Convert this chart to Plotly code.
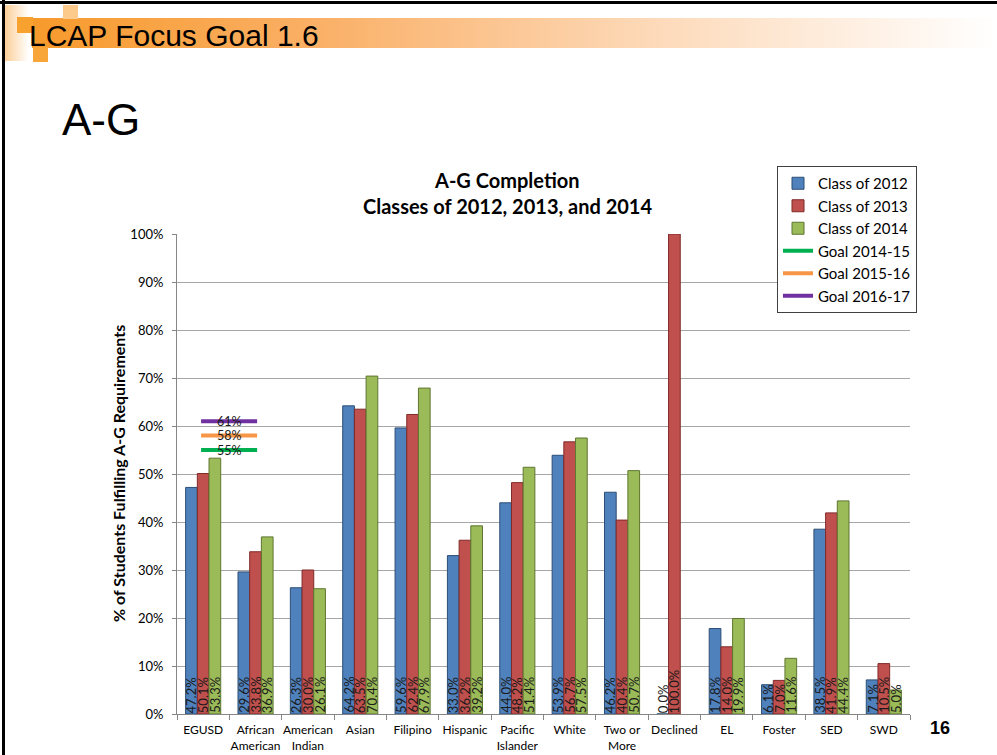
import base64
import plotly.graph_objects as go

# ---------------- data ----------------
categories = ["EGUSD", "African<br>American", "American<br>Indian", "Asian", "Filipino",
              "Hispanic", "Pacific<br>Islander", "White", "Two or<br>More", "Declined",
              "EL", "Foster", "SED", "SWD"]
class_2012 = [47.2, 29.6, 26.3, 64.2, 59.6, 33.0, 44.0, 53.9, 46.2, 0.0, 17.8, 6.1, 38.5, 7.1]
class_2013 = [50.1, 33.8, 30.0, 63.5, 62.4, 36.2, 48.2, 56.7, 40.4, 100.0, 14.0, 7.0, 41.9, 10.5]
class_2014 = [53.3, 36.9, 26.1, 70.4, 67.9, 39.2, 51.4, 57.5, 50.7, None, 19.9, 11.6, 44.4, 5.0]
series_names = ["Class of 2012", "Class of 2013", "Class of 2014"]
goal_names = ["Goal 2014-15", "Goal 2015-16", "Goal 2016-17"]
goal_values = [55, 58, 61]
y_ticks = [0, 10, 20, 30, 40, 50, 60, 70, 80, 90, 100]
y_tick_labels = [f"{v}%" for v in y_ticks]

# ---------------- layout geometry ----------------
W, H = 997, 755
L, R, T, B = 177, 87, 234, 41
PW, PH = W - L - R, H - T - B


def px(x):
    return (x - L) / PW


def py(y):
    return (H - B - y) / PH


bar_fill = ["#4F81BD", "#C0504D", "#9BBB59"]
bar_line = ["#2C4D75", "#7F2A28", "#5F7530"]
goal_colors = ["#00B050", "#F79646", "#7030A0"]
CAL = "Lato, 'Open Sans', sans-serif"
ARIAL = "'Liberation Sans', Arial, sans-serif"

BARGAP = 0.33
bw = (1 - BARGAP) / 3

fig = go.Figure()
all_series = [class_2012, class_2013, class_2014]
for k, (name, vals) in enumerate(zip(series_names, all_series)):
    fig.add_trace(go.Bar(
        x=categories, y=vals, name=name,
        marker=dict(color=bar_fill[k], line=dict(color=bar_line[k], width=1)),
        hoverinfo="skip",
    ))

annotations = []
# data labels (rotated, at the base of each bar)
for k, vals in enumerate(all_series):
    off = (k - 1) * bw
    for i, v in enumerate(vals):
        if v is None:
            continue
        annotations.append(dict(
            x=i + off, y=0, xref="x2", yref="y", text=f"{v:.1f}%",
            textangle=-90, xanchor="center", yanchor="bottom", showarrow=False,
            font=dict(family=CAL, size=13, color="#1a1a1a"), borderpad=0,
        ))

# goal lines near EGUSD
gi = categories.index("EGUSD")
for name, val, col in zip(goal_names, goal_values, goal_colors):
    fig.add_trace(go.Scatter(
        x=[gi - 0.04, gi + 1.03], y=[val, val], xaxis="x2", yaxis="y",
        mode="lines", name=name, line=dict(color=col, width=4), hoverinfo="skip",
    ))
    annotations.append(dict(
        x=gi + 0.495, y=val, xref="x2", yref="y", text=f"{val}%", showarrow=False,
        xanchor="center", yanchor="middle", borderpad=0,
        font=dict(family=CAL, size=12.5, color="#1a1a1a"),
    ))

# chart title
annotations.append(dict(x=px(507), y=py(180), xref="paper", yref="paper", text="<b>A-G Completion</b>",
                        showarrow=False, xanchor="center", yanchor="middle",
                        font=dict(family=CAL, size=20, color="#000")))
annotations.append(dict(x=px(507), y=py(206), xref="paper", yref="paper",
                        text="<b>Classes of 2012, 2013, and 2014</b>",
                        showarrow=False, xanchor="center", yanchor="middle",
                        font=dict(family=CAL, size=20, color="#000")))
# y axis title
annotations.append(dict(x=px(118), y=py(474), xref="paper", yref="paper",
                        text="<b>% of Students Fulfilling A-G Requirements</b>", textangle=-90,
                        showarrow=False, xanchor="center", yanchor="middle",
                        font=dict(family=CAL, size=16, color="#000")))
# slide texts
annotations.append(dict(x=px(27), y=py(35), xref="paper", yref="paper", text="LCAP Focus Goal 1.6",
                        showarrow=False, xanchor="left", yanchor="middle",
                        font=dict(family=ARIAL, size=30, color="#000")))
annotations.append(dict(x=px(60), y=py(119), xref="paper", yref="paper", text="A-G",
                        showarrow=False, xanchor="left", yanchor="middle",
                        font=dict(family=ARIAL, size=44, color="#000")))
annotations.append(dict(x=px(940), y=py(728), xref="paper", yref="paper", text="<b>16</b>",
                        showarrow=False, xanchor="center", yanchor="middle",
                        font=dict(family=ARIAL, size=18, color="#000")))

svg = """<svg xmlns="http://www.w3.org/2000/svg" width="997" height="755" viewBox="0 0 997 755">
<defs>
<linearGradient id="g" x1="0" y1="0" x2="1" y2="0">
<stop offset="0" stop-color="#F79A2C"/>
<stop offset="0.3" stop-color="#FAB067"/>
<stop offset="0.65" stop-color="#FDDABA"/>
<stop offset="1" stop-color="#FFFFFF"/>
</linearGradient>
<linearGradient id="s" x1="0" y1="0" x2="1" y2="0">
<stop offset="0" stop-color="#FBCB90"/>
<stop offset="1" stop-color="#FFFFFF"/>
</linearGradient>
</defs>
<rect x="3" y="5" width="26" height="56" fill="url(#s)"/>
<rect x="32" y="18" width="965" height="30" fill="url(#g)"/>
<rect x="17" y="17" width="16" height="16" fill="#F7A12E"/>
<rect x="33" y="47" width="15" height="15" fill="#F8A63A"/>
<rect x="63" y="5" width="15" height="14" fill="#FCCB8C"/>
<rect x="0" y="1" width="997" height="3" fill="#000"/>
<rect x="2" y="0" width="3" height="755" fill="#000"/>
</svg>"""
src = "data:image/svg+xml;base64," + base64.b64encode(svg.encode()).decode()

fig.update_layout(
    template="none",
    width=W, height=H,
    margin=dict(l=L, r=R, t=T, b=B, autoexpand=False),
    paper_bgcolor="#FFFFFF", plot_bgcolor="rgba(0,0,0,0)",
    barmode="group", bargap=BARGAP, bargroupgap=0,
    showlegend=True,
    legend=dict(x=777 / W, y=1 - 166 / H, xref="container", yref="container",
                xanchor="left", yanchor="top",
                bordercolor="#404040", borderwidth=1, bgcolor="#FFFFFF",
                font=dict(family=CAL, size=15, color="#000"), tracegroupgap=0,
                itemwidth=30),
    xaxis=dict(type="category", tickson="boundaries", ticks="outside", ticklen=5,
               tickcolor="#868686", showline=True, linecolor="#868686", linewidth=1,
               tickangle=0, automargin=False, ticklabelstandoff=5,
               tickfont=dict(family=CAL, size=12, color="#000"), showgrid=False,
               range=[-0.5, len(categories) - 0.5]),
    xaxis2=dict(overlaying="x", range=[-0.5, len(categories) - 0.5], visible=False,
                automargin=False),
    yaxis=dict(range=[0, 100], tickmode="array", tickvals=y_ticks, ticktext=y_tick_labels,
               ticks="outside", ticklen=4, automargin=False, ticklabelstandoff=6,
               tickcolor="#868686", showline=True, linecolor="#868686", linewidth=1,
               showgrid=True, gridcolor="#A6A6A6", gridwidth=1, zeroline=False,
               tickfont=dict(family=CAL, size=13, color="#000")),
    annotations=annotations,
    images=[dict(source=src, xref="paper", yref="paper", x=px(0), y=py(0),
                 sizex=W / PW, sizey=H / PH, xanchor="left", yanchor="top",
                 sizing="stretch", layer="below")],
)

fig.write_html("out.html", config={"displayModeBar": False},
               post_script="document.body.style.margin='0px';")
